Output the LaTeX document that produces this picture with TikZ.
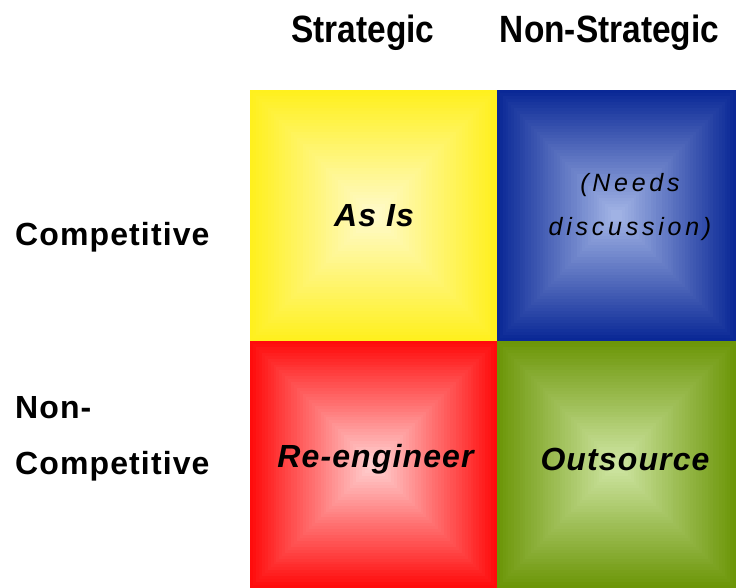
\documentclass[tikz,border=0pt]{standalone}
\usepackage{fontspec}
\setmainfont{Liberation Sans}
\usetikzlibrary{calc}

\definecolor{yelOut}{RGB}{255,240,30}
\definecolor{yelIn}{RGB}{255,250,200}
\definecolor{bluOut}{RGB}{10,40,150}
\definecolor{bluIn}{RGB}{160,178,228}
\definecolor{redOut}{RGB}{255,12,12}
\definecolor{redIn}{RGB}{255,205,205}
\definecolor{grnOut}{RGB}{108,150,8}
\definecolor{grnIn}{RGB}{205,228,160}

\begin{document}
\begin{tikzpicture}[x=1pt, y=-1pt,
    quad/.style={rectangle, inner sep=0pt, path picture={
        \foreach \k in {0,...,40}{
            \pgfmathtruncatemacro\mix{100*\k/40}
            \fill[#1In!\mix!#1Out]
                ($(path picture bounding box.south west)!\k/84!(path picture bounding box.north east)$)
                rectangle
                ($(path picture bounding box.north east)!\k/84!(path picture bounding box.south west)$);
        }}},
    head/.style={font=\fontsize{38}{40}\selectfont\bfseries\addfontfeature{FakeStretch=0.88}},
    side/.style={font=\fontsize{32}{56}\selectfont\bfseries\addfontfeature{LetterSpace=3.5}, align=left},
    cell/.style={font=\fontsize{32}{34}\selectfont\bfseries\itshape\addfontfeature{LetterSpace=3.5}}]
    \useasboundingbox (0,0) rectangle (736,588);

    % Quadrants
    \node[quad=yel, minimum width=247pt, minimum height=251pt] (asis) at (373.5,215.5) {};
    \node[quad=blu, minimum width=239pt, minimum height=251pt] (needs) at (616.5,215.5) {};
    \node[quad=red, minimum width=247pt, minimum height=247pt] (reeng) at (373.5,464.5) {};
    \node[quad=grn, minimum width=239pt, minimum height=247pt] (outs) at (616.5,464.5) {};

    % Texts in the quadrants
    \node[cell] (asistext) at (374,216) {As Is};
    \node[font=\fontsize{25}{44}\selectfont\itshape\addfontfeature{LetterSpace=15}, align=center] (needstext) at (630,207) {(Needs\\discussion)};
    \node[cell] (reengtext) at (375.5,459) {Re-engineer};
    \node[cell] (outstext) at (625,459) {Outsource};

    % Column heads
    \node[head] (strat) at (363,33) {Strategic};
    \node[head] (nonstrat) at (609.5,33) {Non-Strategic};

    % Row heads
    \node[side, anchor=west, inner sep=0pt] (comp) at (15,237) {Competitive};
    \node[side, anchor=west, inner sep=0pt] (noncomp) at (15,439) {Non-\\Competitive};
\end{tikzpicture}
\end{document}
